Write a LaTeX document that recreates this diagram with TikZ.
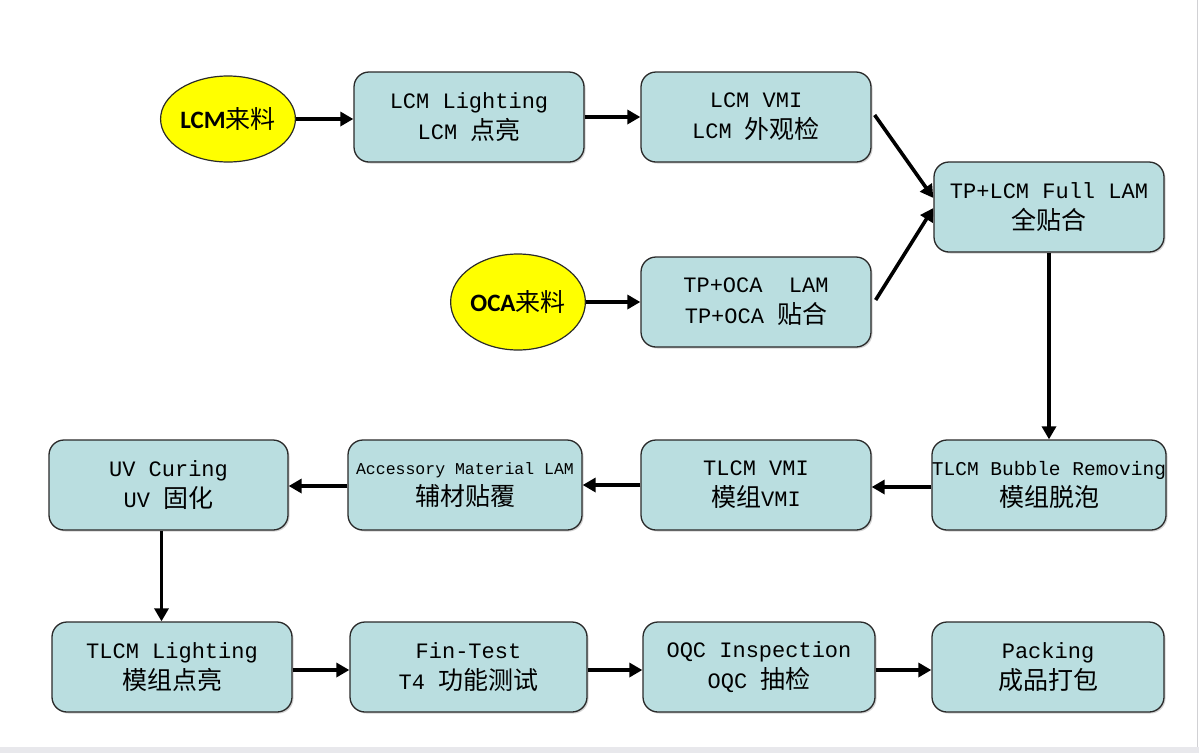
\documentclass[tikz,border=0pt]{standalone}
\usepackage{fontspec}
\newfontfamily\lat{Liberation Mono}
\newfontfamily\cjk{Noto Sans CJK SC}
\newfontfamily\sanb{Carlito}
\newcommand\zh[1]{{\fontsize{25}{31}\selectfont\cjk #1}}
\usetikzlibrary{arrows.meta,shapes.geometric,shadows}
\definecolor{boxfill}{HTML}{BADEE0}
\definecolor{boxline}{HTML}{2A2A2A}
\definecolor{ellfill}{HTML}{FFFF00}
\definecolor{band}{HTML}{E8E8EC}
\tikzset{
  box/.style={draw=boxline, line width=1.3pt, fill=boxfill, rounded corners=15pt,
    minimum width=230pt, minimum height=90pt, inner sep=0pt, align=center,
    font=\lat\fontsize{22}{31}\selectfont,
    drop shadow={shadow xshift=1.5pt, shadow yshift=-1.5pt, opacity=0.35}},
  ell/.style={ellipse, draw=boxline, line width=1.2pt, fill=ellfill,
    minimum width=130pt, inner sep=0pt, font=\fontsize{25}{30}\selectfont},
  arr/.style={line width=3.6pt, -{Triangle[length=13pt,width=14pt]}},
}
\begin{document}
\begin{tikzpicture}[x=1pt,y=-1pt]
\useasboundingbox (0,0) rectangle (1199,753);
\fill[white] (0,0) rectangle (1199,753);
\fill[band] (0,747) rectangle (1199,753);
\draw[band!90!black, line width=1pt] (1197.5,0) -- (1197.5,747);

\node[ell, minimum height=86pt] (e1) at (228,119) {{\sanb\bfseries LCM}\zh{来料}};
\node[ell, minimum height=96pt] (e2) at (518,302) {{\sanb\bfseries OCA}\zh{来料}};

\node[box] (b1) at (469,117) {LCM Lighting\\LCM \zh{点亮}};
\node[box] (b2) at (756,117) {LCM VMI\\LCM \zh{外观检}};
\node[box] (b3) at (1049,207) {TP+LCM Full LAM\\\zh{全贴合}};
\node[box] (b4) at (756,302) {TP+OCA~~LAM\\TP+OCA \zh{贴合}};

\node[box, minimum width=232pt, font=\lat\fontsize{19.5}{31}\selectfont] (b5) at (1049,485) {TLCM Bubble Removing\\\zh{模组脱泡}};
\node[box] (b6) at (756,485) {TLCM VMI\\\zh{模组}VMI};
\node[box, minimum width=234pt, font=\lat\fontsize{16.5}{31}\selectfont] (b7) at (465,485) {Accessory Material LAM\\\zh{辅材贴覆}};
\node[box, minimum width=239pt] (b8) at (168.5,485) {UV Curing\\UV \zh{固化}};

\node[box, minimum width=240pt] (b9) at (172,667) {TLCM Lighting\\\zh{模组点亮}};
\node[box, minimum width=237pt] (b10) at (468.5,667) {Fin-Test\\T4 \zh{功能测试}};
\node[box, minimum width=232pt] (b11) at (759,667) {OQC Inspection\\OQC \zh{抽检}};
\node[box, minimum width=232pt] (b12) at (1048,667) {Packing\\\zh{成品打包}};

\draw[arr] (e1.east) -- (e1.east -| b1.west);
\draw[arr] (b1.east) -- (b2.west);
\draw[arr] ([shift={(3pt,2pt)}]b2.east) -- ([yshift=9pt]b3.west);
\draw[arr] ([shift={(4pt,2pt)}]b4.east) -- ([yshift=-1pt]b3.west);
\draw[arr] (e2.east) -- (e2.east -| b4.west);
\draw[arr] (b3.south) -- (b5.north);
\draw[arr] ([yshift=-2pt]b5.west) -- ([yshift=-2pt]b6.east);
\draw[arr] (b6.west) -- (b7.east);
\draw[arr] ([yshift=-1pt]b7.west) -- ([yshift=-1pt]b8.east);
\draw[arr] ([xshift=-7pt]b8.south) -- ([xshift=-7pt]b8.south |- b9.north);
\draw[arr] ([yshift=-3pt]b9.east) -- ([yshift=-3pt]b10.west);
\draw[arr] ([yshift=-3pt]b10.east) -- ([yshift=-3pt]b11.west);
\draw[arr] ([yshift=-3pt]b11.east) -- ([yshift=-3pt]b12.west);
\end{tikzpicture}
\end{document}
